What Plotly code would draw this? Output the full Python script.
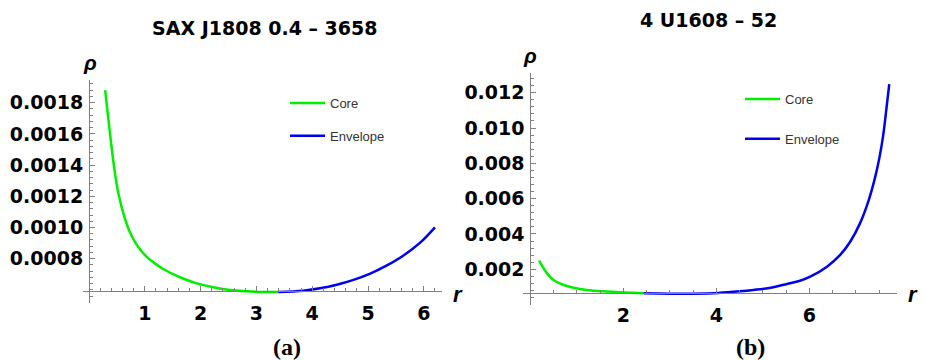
import plotly.graph_objects as go

# ---- Panel (a): SAX J1808 0.4 - 3658 ----
a_core_r = [0.29, 0.33, 0.376, 0.418, 0.466, 0.526, 0.633, 0.73, 0.85, 1.03, 1.18, 1.33, 1.63, 1.93, 2.23, 2.53, 2.83, 3.12, 3.39]
a_core_rho = [0.00188, 0.00175, 0.001604, 0.001476, 0.001347, 0.001219, 0.001069, 0.000972, 0.000892,
              0.000813, 0.000770, 0.000734, 0.000681, 0.000642, 0.000617, 0.000599, 0.000591, 0.000587, 0.000586]
a_env_r = [3.39, 3.84, 4.14, 4.44, 4.74, 5.04, 5.33, 5.63, 5.93, 6.2]
a_env_rho = [0.000586, 0.000595, 0.000610, 0.000633, 0.000664, 0.000704, 0.000755, 0.000819, 0.000901, 0.001001]

# ---- Panel (b): 4 U1608 - 52 ----
b_core_r = [0.19, 0.36, 0.5, 0.72, 0.93, 1.22, 1.58, 1.94, 2.44]
b_core_rho = [0.00249, 0.00177, 0.00139, 0.00111, 0.00096, 0.00083, 0.00075, 0.00070, 0.00064]
b_env_r = [2.44, 3.0, 3.5, 4.05, 4.5, 4.8, 5.2, 5.52, 5.8, 6.02, 6.38, 6.66, 6.88, 7.09, 7.27, 7.41, 7.51, 7.59, 7.66, 7.72]
b_env_rho = [0.00064, 0.00062, 0.00062, 0.00066, 0.00075, 0.00083, 0.00097, 0.00117, 0.00135, 0.00158, 0.00215,
             0.0028, 0.00356, 0.0046, 0.00585, 0.00715, 0.00835, 0.0096, 0.01112, 0.01248]

a_yticks = [0.0008, 0.0010, 0.0012, 0.0014, 0.0016, 0.0018]
a_xticks = [1, 2, 3, 4, 5, 6]
b_yticks = [0.002, 0.004, 0.006, 0.008, 0.010, 0.012]
b_xticks = [2, 4, 6]

GREEN = "#00f000"
BLUE = "#0000f0"
AX = "#808080"
W, H = 925, 360
BOLD = "DejaVu Sans"

fig = go.Figure()
fig.add_trace(go.Scatter(x=a_core_r, y=a_core_rho, mode="lines", name="Core", line=dict(color=GREEN, width=2.5, shape="spline"),
                         xaxis="x", yaxis="y", legend="legend", legendgroup="a1"))
fig.add_trace(go.Scatter(x=a_env_r, y=a_env_rho, mode="lines", name="Envelope", line=dict(color=BLUE, width=2.5, shape="spline"),
                         xaxis="x", yaxis="y", legend="legend", legendgroup="a2"))
fig.add_trace(go.Scatter(x=b_core_r, y=b_core_rho, mode="lines", name="Core", line=dict(color=GREEN, width=2.5, shape="spline"),
                         xaxis="x2", yaxis="y2", legend="legend2", legendgroup="b1"))
fig.add_trace(go.Scatter(x=b_env_r, y=b_env_rho, mode="lines", name="Envelope", line=dict(color=BLUE, width=2.5, shape="spline"),
                         xaxis="x2", yaxis="y2", legend="legend2", legendgroup="b2"))

tickfont = dict(family=BOLD, size=19, color="black", weight="bold")

def axis_common():
    return dict(showline=True, linecolor=AX, linewidth=1, ticks="inside", tickcolor=AX, ticklen=5, tickwidth=1,
                showgrid=False, zeroline=False, tickfont=tickfont, anchor="free", fixedrange=True)

legfont = dict(family="Liberation Sans, Arial", size=13, color="#333")

fig.update_layout(
    width=W, height=H, margin=dict(l=0, r=0, t=0, b=0),
    paper_bgcolor="white", plot_bgcolor="rgba(0,0,0,0)",
    xaxis=dict(**axis_common(), domain=[83 / W, 442 / W], range=[-0.1075, 6.326], position=(H - 291) / H,
               tickvals=a_xticks, ticktext=[str(v) for v in a_xticks], ticklabelstandoff=5,
               minor=dict(ticks="inside", dtick=0.2, tick0=0, ticklen=3, tickcolor=AX)),
    yaxis=dict(**axis_common(), domain=[(H - 303) / H, (H - 80) / H], range=[0.000516, 0.0019455], position=89 / W,
               tickvals=a_yticks, ticktext=[f"{v:.4f}" for v in a_yticks], ticklabelstandoff=2,
               minor=dict(ticks="inside", dtick=0.00004, tick0=0, ticklen=3, tickcolor=AX)),
    xaxis2=dict(**axis_common(), domain=[523 / W, 896.7 / W], range=[-0.157, 7.88], position=(H - 293.3) / H,
                tickvals=b_xticks, ticktext=[str(v) for v in b_xticks], ticklabelstandoff=5,
                minor=dict(ticks="inside", dtick=0.5, tick0=0, ticklen=3, tickcolor=AX)),
    yaxis2=dict(**axis_common(), domain=[(H - 305) / H, (H - 73) / H], range=[-0.000022, 0.013116], position=530.3 / W,
                tickvals=b_yticks, ticktext=[f"{v:.3f}" for v in b_yticks], ticklabelstandoff=2,
                minor=dict(ticks="inside", dtick=0.0004, tick0=0, ticklen=3, tickcolor=AX)),
    legend=dict(x=285 / W, y=(H - 88) / H, xanchor="left", yanchor="top", bgcolor="rgba(0,0,0,0)",
                font=legfont, itemwidth=35, traceorder="grouped", tracegroupgap=13),
    legend2=dict(x=740 / W, y=(H - 84) / H, xanchor="left", yanchor="top", bgcolor="rgba(0,0,0,0)",
                 font=legfont, itemwidth=35, traceorder="grouped", tracegroupgap=20),
)

ann = []
def add_text(x, y, text, size, family=BOLD, weight="bold", style="normal"):
    ann.append(dict(x=x / W, y=(H - y) / H, xref="paper", yref="paper", text=text, showarrow=False,
                    xanchor="center", yanchor="middle",
                    font=dict(family=family, size=size, color="black", weight=weight, style=style)))

add_text(265, 28, "SAX J1808 0.4 – 3658", 19)
add_text(708, 20, "4 U1608 – 52", 19)
add_text(90, 62, "ρ", 21, family="Liberation Sans, Arial", style="italic")
add_text(530, 55, "ρ", 21, family="Liberation Sans, Arial", style="italic")
add_text(458, 294, "r", 22, family="Liberation Sans, Arial", style="italic")
add_text(913, 294, "r", 22, family="Liberation Sans, Arial", style="italic")
add_text(287, 347, "(a)", 24, family="Liberation Serif, Times New Roman")
add_text(750, 347, "(b)", 24, family="Liberation Serif, Times New Roman")
fig.update_layout(annotations=ann)

fig.write_html("out.html")
